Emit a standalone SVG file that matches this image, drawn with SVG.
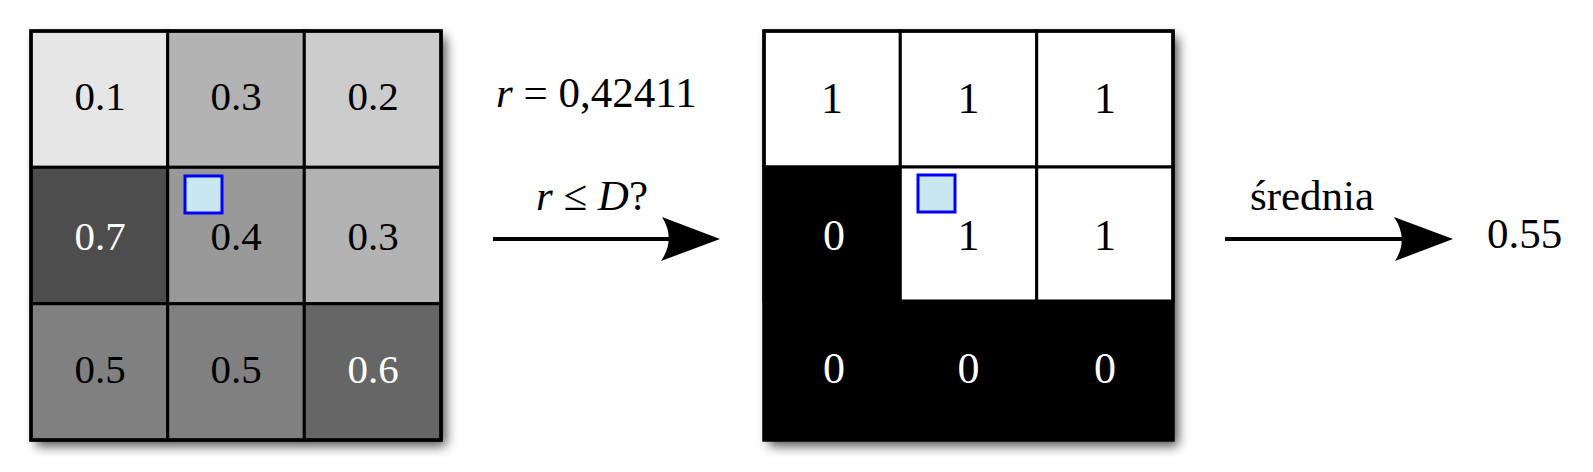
<svg xmlns="http://www.w3.org/2000/svg" width="1593" height="472" viewBox="0 0 1593 472" font-family="'Liberation Serif', 'Times New Roman', 'DejaVu Serif', serif">
<style>
text{font-family:'Liberation Serif','Times New Roman','DejaVu Serif',serif}
.t{font-size:41px;text-anchor:middle;fill:#000}
.tb{font-size:44px;text-anchor:middle;fill:#000}
.w{fill:#fff}
.cell{stroke:#000;stroke-width:3}
.frame{fill:none;stroke:#000;stroke-width:3.5}
.marker{fill:#c9e7f0;stroke:#0000ff;stroke-width:3}
.conn{stroke:#000;stroke-width:4;fill:none}
.head{fill:#000}
.lbl{font-size:43px;fill:#000}
</style>
<defs>
<filter id="sh" x="-10%" y="-10%" width="125%" height="125%">
<feGaussianBlur in="SourceAlpha" stdDeviation="6"/>
<feOffset dx="5" dy="6" result="b"/>
<feComponentTransfer><feFuncA type="linear" slope="0.7"/></feComponentTransfer>
<feMerge><feMergeNode/><feMergeNode in="SourceGraphic"/></feMerge>
</filter>
</defs>
<g id="grid-input">
<rect x="31" y="31" width="410" height="409" fill="#fff" filter="url(#sh)"/>
<g id="c11"><rect class="cell" x="31" y="31" width="136.7" height="136.3" fill="#e6e6e6"/><text class="t" x="100" y="110">0.1</text></g>
<g id="c12"><rect class="cell" x="167.7" y="31" width="136.6" height="136.3" fill="#b3b3b3"/><text class="t" x="236" y="110">0.3</text></g>
<g id="c13"><rect class="cell" x="304.3" y="31" width="136.7" height="136.3" fill="#cccccc"/><text class="t" x="373" y="110">0.2</text></g>
<g id="c21"><rect class="cell" x="31" y="167.3" width="136.7" height="136.4" fill="#4d4d4d"/><text class="t w" x="100" y="250">0.7</text></g>
<g id="c22"><rect class="cell" x="167.7" y="167.3" width="136.6" height="136.4" fill="#999999"/><text class="t" x="236" y="250">0.4</text></g>
<g id="c23"><rect class="cell" x="304.3" y="167.3" width="136.7" height="136.4" fill="#b3b3b3"/><text class="t" x="373" y="250">0.3</text></g>
<g id="c31"><rect class="cell" x="31" y="303.7" width="136.7" height="136.3" fill="#808080"/><text class="t" x="100" y="383">0.5</text></g>
<g id="c32"><rect class="cell" x="167.7" y="303.7" width="136.6" height="136.3" fill="#808080"/><text class="t" x="236" y="383">0.5</text></g>
<g id="c33"><rect class="cell" x="304.3" y="303.7" width="136.7" height="136.3" fill="#666666"/><text class="t w" x="373" y="383">0.6</text></g>
<rect class="frame" x="31" y="31" width="410" height="409"/>
<rect id="marker1" class="marker" x="185" y="176" width="37" height="37"/>
</g>
<g id="grid-binary">
<rect x="764" y="31" width="409" height="409" fill="#000" filter="url(#sh)"/>
<g id="b11"><rect class="cell" x="764" y="31" width="136.3" height="136" fill="#fff"/><text class="tb" x="832" y="113">1</text></g>
<g id="b12"><rect class="cell" x="900.3" y="31" width="136.4" height="136" fill="#fff"/><text class="tb" x="968.5" y="113">1</text></g>
<g id="b13"><rect class="cell" x="1036.7" y="31" width="136.3" height="136" fill="#fff"/><text class="tb" x="1105" y="113">1</text></g>
<g id="b21"><rect class="cell" x="764" y="167" width="136.3" height="134" fill="#000"/><text class="tb w" x="834" y="250">0</text></g>
<g id="b22"><rect class="cell" x="900.3" y="167" width="136.4" height="134" fill="#fff"/><text class="tb" x="968.5" y="250">1</text></g>
<g id="b23"><rect class="cell" x="1036.7" y="167" width="136.3" height="134" fill="#fff"/><text class="tb" x="1105" y="250">1</text></g>
<rect x="764" y="301" width="409" height="139" fill="#000"/>
<g id="b31"><text class="tb w" x="834" y="383">0</text></g>
<g id="b32"><text class="tb w" x="968.5" y="383">0</text></g>
<g id="b33"><text class="tb w" x="1105" y="383">0</text></g>
<rect class="frame" x="764" y="31" width="409" height="409"/>
<rect id="marker2" class="marker" x="918" y="175" width="37" height="37"/>
</g>
<g id="connectors">
<g id="arrow1">
<line class="conn" x1="493" y1="239" x2="672" y2="239"/>
<path class="head" d="M720,239 L662,217 Q676,239 661,261 Z"/>
<text class="lbl" x="496" y="107"><tspan font-style="italic">r</tspan> = 0,42411</text>
<text class="lbl" x="592" y="210" text-anchor="middle"><tspan font-style="italic">r</tspan> ≤ <tspan font-style="italic">D</tspan>?</text>
</g>
<g id="arrow2">
<line class="conn" x1="1225" y1="239" x2="1404" y2="239"/>
<path class="head" d="M1453,239 L1394,217 Q1409,239 1395,261 Z"/>
<text class="lbl" x="1312" y="210" text-anchor="middle" font-size="42">średnia</text>
</g>
</g>
<g id="result"><text class="lbl" x="1487" y="248" font-size="44">0.55</text></g>
</svg>
